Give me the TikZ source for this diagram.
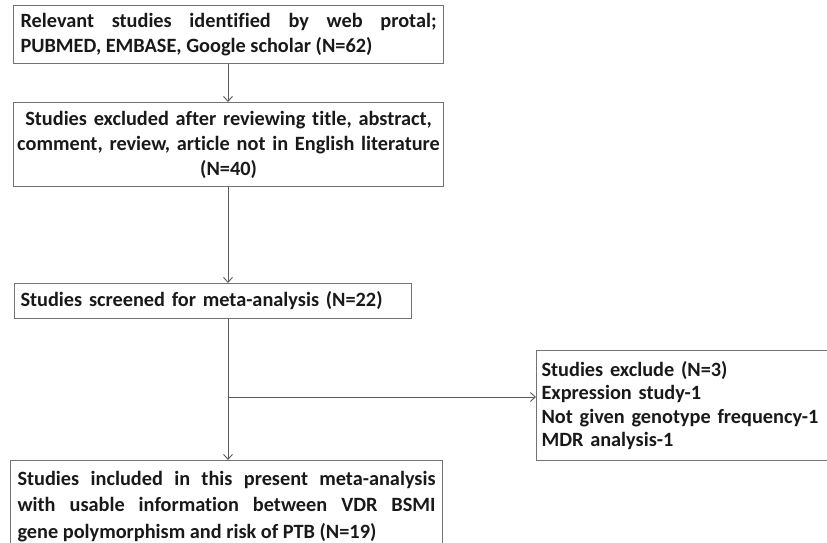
\documentclass[tikz,border=0pt]{standalone}
\usepackage{fontspec}
\setmainfont{Carlito}[Ligatures=NoCommon]
\usetikzlibrary{arrows.meta}
\tikzset{
  box/.style={draw=black!55, line width=1.1pt, inner xsep=7pt, inner ysep=0pt,
    font=\bfseries\fontsize{20.3}{24.5}\selectfont, text=black!90},
  conn/.style={draw=black!65, line width=0.9pt, -{Straight Barb[length=5pt,width=9pt]}}
}
\begin{document}
\begin{tikzpicture}[x=1pt,y=-1pt]
\useasboundingbox (0,0) rectangle (827,542);
\clip (0,0) rectangle (827,542);
\node[box, anchor=north west, minimum width=430pt, minimum height=58pt, text width=416pt, align=justify] (b1) at (13,5)
  {Relevant studies identified by web protal;\linebreak PUBMED, EMBASE, Google scholar (N=62)};
\node[box, anchor=north west, minimum width=430pt, minimum height=84pt, text width=428pt, inner xsep=1pt, align=center, font=\bfseries\fontsize{20.3}{25}\selectfont] (b2) at (13,102)
  {Studies excluded after reviewing title, abstract,\\ comment, review, article not in English literature\\ (N=40)};
\node[box, anchor=north west, minimum width=397pt, minimum height=35pt, text width=385pt, inner xsep=6pt, align=left] (b3) at (14,283)
  {Studies screened for meta-analysis (N=22)};
\node[box, anchor=north west, minimum width=432pt, minimum height=92pt, text width=418pt, align=justify, font=\bfseries\fontsize{20.3}{26.5}\selectfont] (b4) at (10,460)
  {Studies included in this present meta-analysis\linebreak with usable information between VDR BSMI\linebreak gene polymorphism and risk of PTB (N=19)};
\node[box, anchor=north west, minimum width=310pt, minimum height=110pt, text width=300pt, align=left, font=\bfseries\fontsize{20.3}{23.5}\selectfont, inner xsep=4pt] (b5) at (536,350)
  {Studies exclude (N=3)\\ Expression study-1\\ Not given genotype frequency-1\\ MDR analysis-1};
\coordinate (split) at (228,397);
\draw[conn] (b1.south -| 228,0) -- (b2.north -| 228,0);
\draw[conn] (b2.south -| 228,0) -- (b3.north -| 228,0);
\draw[conn] (b3.south -| 228,0) -- (b4.north -| 228,0);
\draw[conn] (split) -- (split -| b5.west);
\end{tikzpicture}
\end{document}
